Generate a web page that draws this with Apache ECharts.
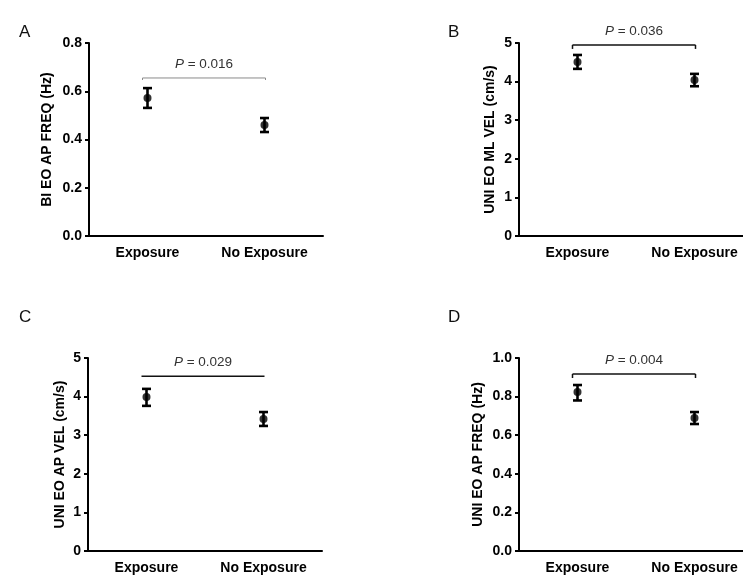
<!DOCTYPE html>
<html>
<head>
<meta charset="utf-8">
<script src="https://cdn.jsdelivr.net/npm/echarts@6/dist/echarts.min.js"></script>
<style>
  html, body { margin: 0; padding: 0; background: #fff; overflow: hidden; }
  /* wider than the window: the right-hand x axes run off the edge in the figure */
  #chart-container { width: 770px; height: 575px; }
</style>
</head>
<body>
<div id="chart-container"></div>
<script>
// data
const categories = ["Exposure", "No Exposure"];
const panelLetters = ["A", "B", "C", "D"];
const yNames = [
  "BI EO AP FREQ (Hz)",
  "UNI EO ML VEL (cm/s)",
  "UNI EO AP VEL (cm/s)",
  "UNI EO AP FREQ (Hz)",
];
const yMax = [0.8, 5, 5, 1.0];
const yStep = [0.2, 1, 1, 0.2];
const yDecimals = [1, 0, 0, 1];

const meanA = [0.572, 0.46];
const lowA = [0.531, 0.431];
const highA = [0.613, 0.489];

const meanB = [4.51, 4.04];
const lowB = [4.33, 3.88];
const highB = [4.69, 4.2];

const meanC = [3.99, 3.42];
const lowC = [3.76, 3.24];
const highC = [4.2, 3.6];

const meanD = [0.824, 0.689];
const lowD = [0.78, 0.658];
const highD = [0.86, 0.72];

const pValues = ["0.016", "0.036", "0.029", "0.004"];
const bracketY = [0.655, 4.95, 4.53, 0.917];

const means = [meanA, meanB, meanC, meanD];
const lows = [lowA, lowB, lowC, lowD];
const highs = [highA, highB, highC, highD];

// layout
const gridPos = [
  { left: 89, top: 43 },
  { left: 519, top: 43 },
  { left: 88, top: 358 },
  { left: 519, top: 358 },
];
const nameGaps = [35, 22, 21, 34];
const letterPos = [
  { left: 14, top: 19 },
  { left: 443, top: 19 },
  { left: 14, top: 304 },
  { left: 443, top: 304 },
];
const bracketStyle = [
  { stroke: "#8a8a8a", lineWidth: 1, tick: 2 },
  { stroke: "#111", lineWidth: 1.5, tick: 4 },
  { stroke: "#111", lineWidth: 1.5, tick: 0 },
  { stroke: "#111", lineWidth: 1.5, tick: 4 },
];

const font = "'Liberation Sans', Arial, sans-serif";

function renderErrorBar(params, api) {
  const lo = api.coord([api.value(0), api.value(1)]);
  const hi = api.coord([api.value(0), api.value(2)]);
  const w = 4.5;
  const style = { stroke: "#000", lineWidth: 2.6 };
  return {
    type: "group",
    children: [
      { type: "line", shape: { x1: lo[0], y1: lo[1], x2: hi[0], y2: hi[1] }, style },
      { type: "line", shape: { x1: lo[0] - w, y1: lo[1], x2: lo[0] + w, y2: lo[1] }, style },
      { type: "line", shape: { x1: hi[0] - w, y1: hi[1], x2: hi[0] + w, y2: hi[1] }, style },
    ],
  };
}

function makeBracketRenderer(i) {
  return function (params, api) {
    const p0 = api.coord([0, api.value(1)]);
    const p1 = api.coord([1, api.value(1)]);
    const s = bracketStyle[i];
    const style = { stroke: s.stroke, lineWidth: s.lineWidth, fill: null };
    const children = [
      { type: "line", shape: { x1: p0[0] - 5, y1: p0[1], x2: p1[0] + 1, y2: p1[1] }, style },
    ];
    if (s.tick > 0) {
      children.push(
        { type: "line", shape: { x1: p0[0] - 5, y1: p0[1], x2: p0[0] - 5, y2: p0[1] + s.tick }, style },
        { type: "line", shape: { x1: p1[0] + 1, y1: p1[1], x2: p1[0] + 1, y2: p1[1] + s.tick }, style }
      );
    }
    children.push({
      type: "text",
      x: (p0[0] + p1[0]) / 2 - 2,
      y: p0[1] - 14,
      style: {
        text: "{i|P} = " + pValues[i],
        rich: { i: { fontStyle: "italic", fontFamily: font, fontSize: 13.5, fill: "#333" } },
        fontFamily: font,
        fontSize: 13.5,
        fill: "#333",
        align: "center",
        verticalAlign: "middle",
      },
    });
    return { type: "group", children };
  };
}

const dom = document.getElementById("chart-container");
const chart = echarts.init(dom, null, { renderer: "canvas" });

const grid = gridPos.map((g) => ({ left: g.left, top: g.top, width: 234, height: 193 }));

const xAxis = gridPos.map((_, i) => ({
  type: "category",
  gridIndex: i,
  data: categories,
  axisLine: { lineStyle: { color: "#000", width: 2 } },
  axisTick: { alignWithLabel: true, length: 4, lineStyle: { color: "#000", width: 2 } },
  axisLabel: { color: "#000", fontWeight: "bold", fontSize: 14, fontFamily: font, margin: 10, interval: 0 },
  splitLine: { show: false },
}));

const yAxis = gridPos.map((_, i) => ({
  type: "value",
  gridIndex: i,
  min: 0,
  max: yMax[i],
  interval: yStep[i],
  name: yNames[i],
  nameLocation: "middle",
  nameGap: nameGaps[i],
  nameTextStyle: { color: "#000", fontWeight: "bold", fontSize: 14, fontFamily: font },
  axisLine: { show: true, lineStyle: { color: "#000", width: 2 } },
  axisTick: { show: true, length: 4, lineStyle: { color: "#000", width: 2 } },
  axisLabel: {
    color: "#000",
    fontWeight: "bold",
    fontSize: 14,
    fontFamily: font,
    margin: 7,
    formatter: (v) => v.toFixed(yDecimals[i]),
  },
  splitLine: { show: false },
}));

const series = [];
for (let i = 0; i < 4; i++) {
  series.push({
    type: "custom",
    xAxisIndex: i,
    yAxisIndex: i,
    renderItem: renderErrorBar,
    data: categories.map((_, k) => [k, lows[i][k], highs[i][k]]),
    z: 3,
  });
  series.push({
    type: "scatter",
    xAxisIndex: i,
    yAxisIndex: i,
    symbol: "circle",
    symbolSize: 8,
    itemStyle: { color: "#000" },
    data: categories.map((_, k) => [k, means[i][k]]),
    z: 4,
  });
  series.push({
    type: "custom",
    xAxisIndex: i,
    yAxisIndex: i,
    renderItem: makeBracketRenderer(i),
    data: [[0, bracketY[i]]],
    clip: false,
    z: 2,
  });
}

const option = {
  animation: false,
  backgroundColor: "#fff",
  title: panelLetters.map((t, i) => ({
    text: t,
    left: letterPos[i].left,
    top: letterPos[i].top,
    textStyle: { fontSize: 17, fontWeight: "normal", color: "#111", fontFamily: font },
  })),
  grid,
  xAxis,
  yAxis,
  series,
};

chart.setOption(option);
window.addEventListener("resize", () => chart.resize());
</script>
</body>
</html>
